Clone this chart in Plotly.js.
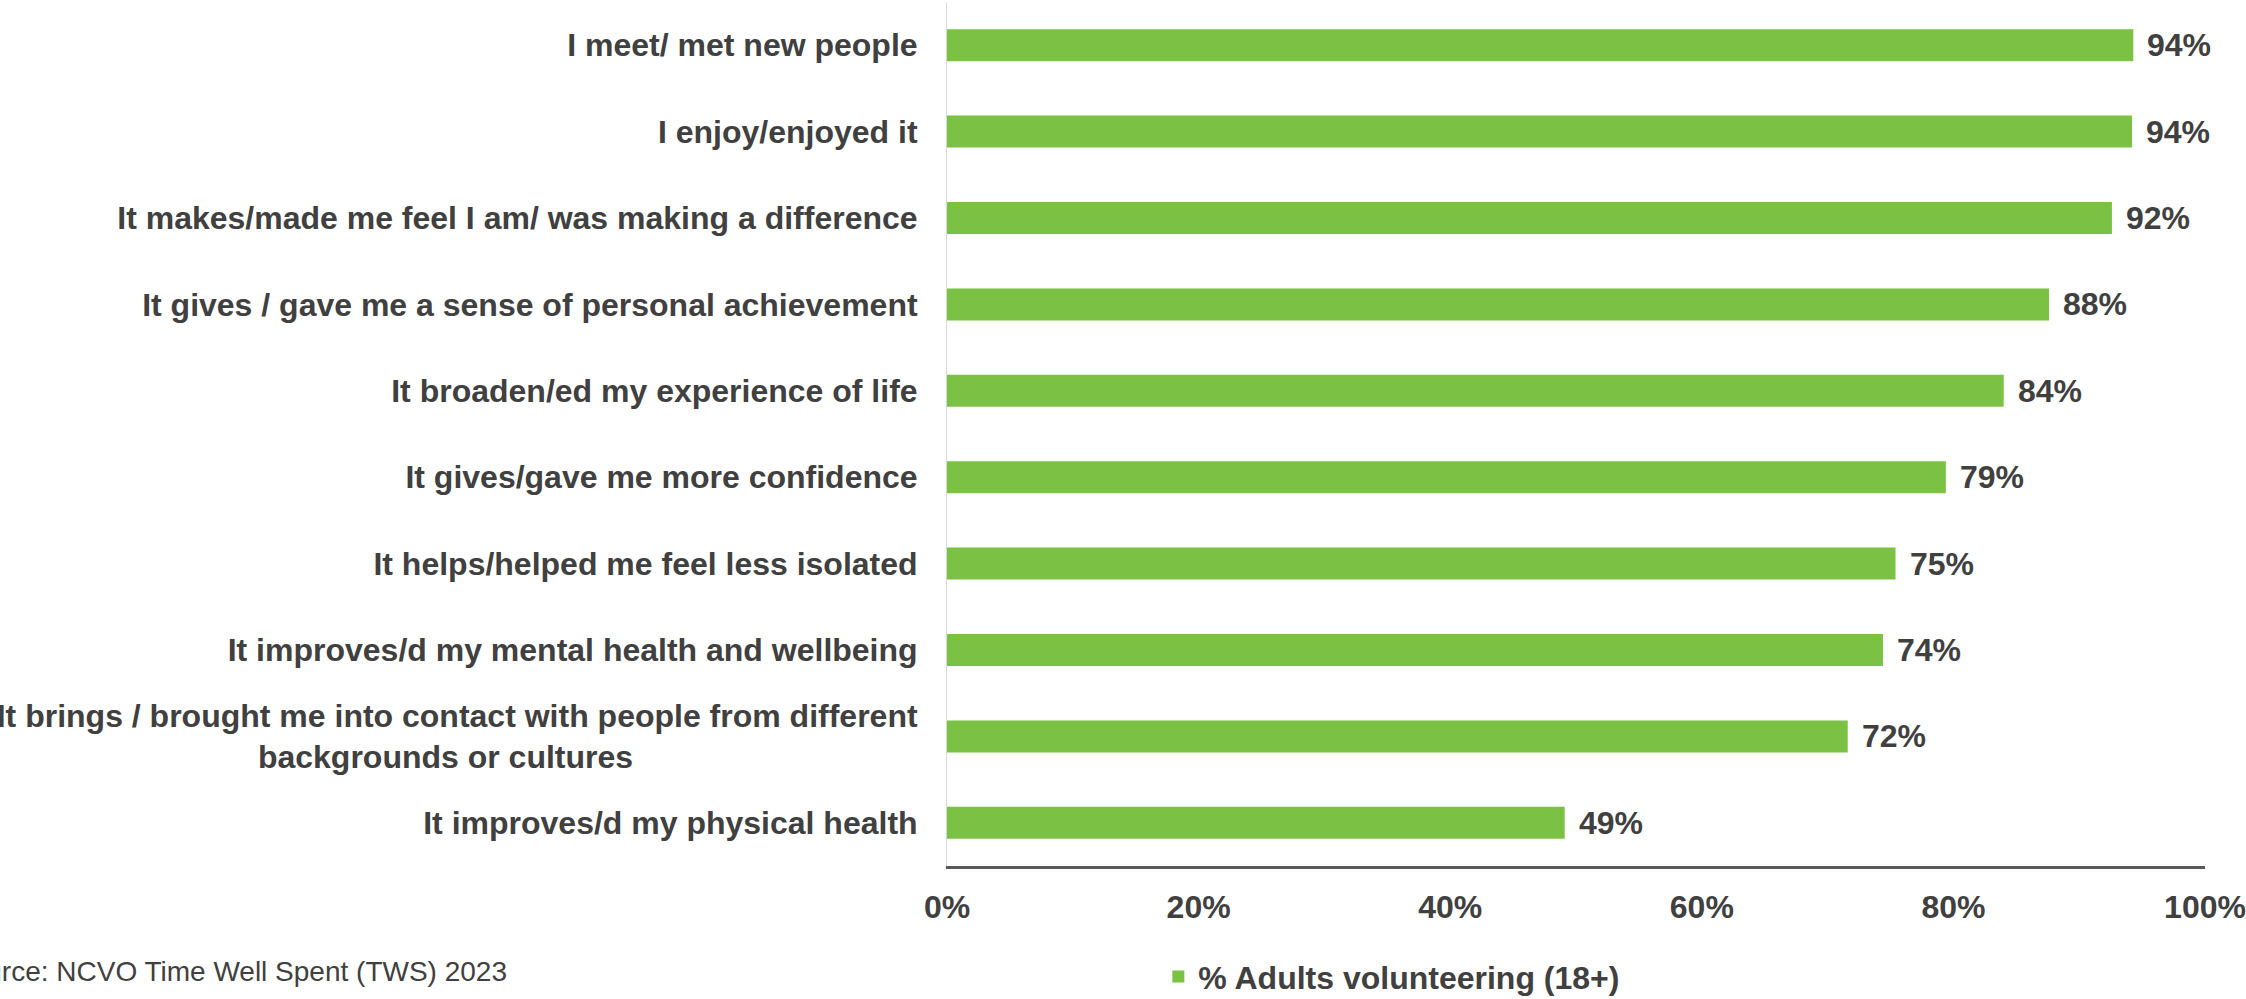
<!DOCTYPE html>
<html>
<head>
<meta charset="utf-8">
<script src="https://cdn.plot.ly/plotly-3.0.1.min.js"></script>
<style>html,body{margin:0;padding:0;background:#fff;overflow:hidden}#chart{width:2246px;height:999px}</style>
</head>
<body>
<div id="chart"></div>
<script>
const categories = [
  "I meet/ met new people",
  "I enjoy/enjoyed it",
  "It makes/made me feel I am/ was making a difference",
  "It gives / gave me a sense of personal achievement",
  "It broaden/ed my experience of life",
  "It gives/gave me more confidence",
  "It helps/helped me feel less isolated",
  "It improves/d my mental health and wellbeing",
  "It brings / brought me into contact with people from different<br>backgrounds or cultures" + "\u00A0".repeat(32),
  "It improves/d my physical health"
];
const values = [94.3, 94.2, 92.6, 87.6, 84.0, 79.4, 75.4, 74.4, 71.6, 49.1];
const valueLabels = ["94%", "94%", "92%", "88%", "84%", "79%", "75%", "74%", "72%", "49%"];
const seriesName = "% Adults volunteering (18+)";
const sourceText = "Source: NCVO Time Well Spent (TWS) 2023";

const textColor = "#404040";
const fam = "Liberation Sans, Arial, sans-serif";

const trace = {
  type: "bar",
  orientation: "h",
  x: values,
  y: categories,
  name: seriesName,
  marker: {color: "#7BC143", line: {width: 0}},
  hoverinfo: "x+y",
  showlegend: true
};

const annotations = values.map((v, i) => ({
  x: v, y: categories[i], xref: "x", yref: "y",
  text: valueLabels[i], showarrow: false,
  xanchor: "left", yanchor: "middle", xshift: 12,
  font: {family: fam, size: 32, color: textColor, weight: 700}
}));
annotations.push({
  x: -0.7925, y: -0.122, xref: "paper", yref: "paper",
  text: sourceText, showarrow: false,
  xanchor: "left", yanchor: "middle",
  font: {family: fam, size: 28, color: textColor, weight: 400}
});

const layout = {
  width: 2246, height: 999,
  margin: {l: 947, r: 41, t: 2, b: 133, pad: 0, autoexpand: false},
  paper_bgcolor: "#fff", plot_bgcolor: "#fff",
  font: {family: fam, color: textColor, size: 32, weight: 700},
  bargap: 0.63,
  xaxis: {
    range: [0, 100], tickmode: "linear", tick0: 0, dtick: 20, ticksuffix: "%",
    showgrid: false, zeroline: false, showline: true, linecolor: "#595959", linewidth: 2.5,
    ticks: "", ticklabelstandoff: 11, automargin: false,
    tickfont: {family: fam, size: 32, color: textColor, weight: 700},
    fixedrange: true
  },
  yaxis: {
    type: "category", autorange: "reversed", automargin: false,
    showgrid: false, zeroline: false, showline: true, linecolor: "#d9d9d9", linewidth: 1,
    ticks: "", ticklabelstandoff: 22,
    tickfont: {family: fam, size: 32, color: textColor, weight: 700},
    fixedrange: true
  },
  showlegend: true,
  legend: {
    orientation: "h", x: 0.168, xanchor: "left", y: -0.128, yanchor: "middle",
    font: {family: fam, size: 32, color: textColor, weight: 700},
    bgcolor: "rgba(0,0,0,0)", borderwidth: 0
  },
  annotations: annotations
};

Plotly.newPlot("chart", [trace], layout, {displayModeBar: false, staticPlot: true});
</script>
</body>
</html>
